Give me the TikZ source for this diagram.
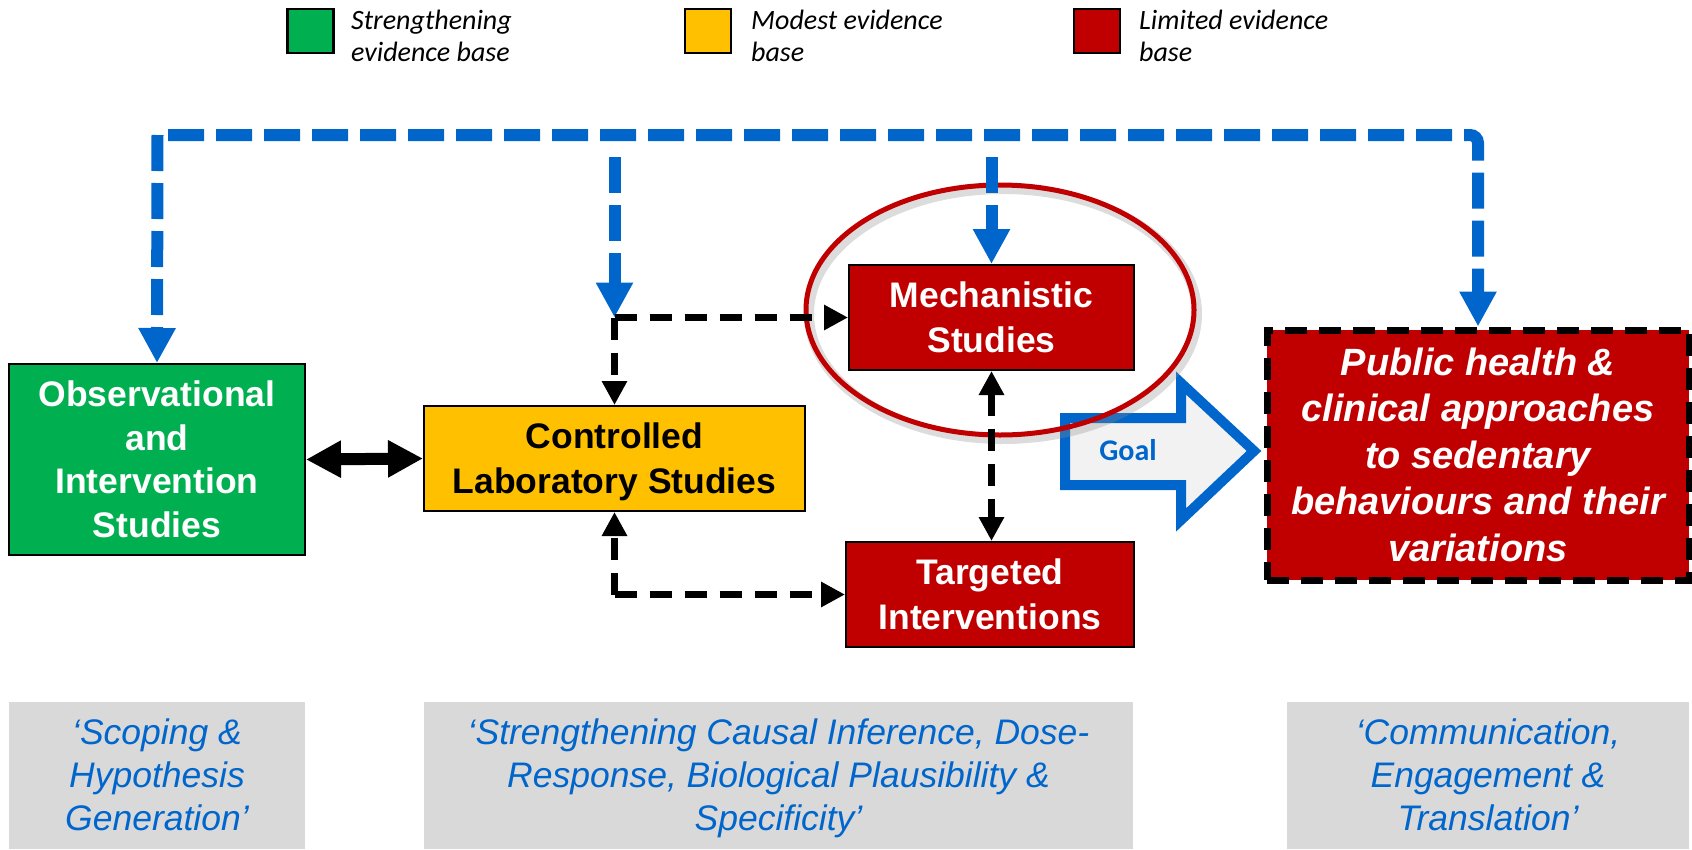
\documentclass[tikz,border=0pt]{standalone}
\usepackage{fontspec}
\setmainfont{Liberation Sans}
\newfontfamily\calfont{Carlito}
\usetikzlibrary{arrows.meta,shapes.geometric}
\definecolor{cgreen}{RGB}{0,176,80}
\definecolor{cyellow}{RGB}{255,192,0}
\definecolor{cred}{RGB}{192,0,0}
\definecolor{cblue}{RGB}{0,102,204}
\definecolor{cgray}{RGB}{217,217,217}
\definecolor{cgoal}{RGB}{242,242,242}
\newcommand\pst{\rule[-0.212em]{0pt}{1.117em}}
\begin{document}
\begin{tikzpicture}[x=1pt,y=-1pt,
  box/.style={draw=black, line width=2pt, inner sep=0pt, align=center,
    font=\bfseries\fontsize{35.5}{45}\selectfont},
  phbox/.style={draw=black, line width=7pt, dash pattern=on 22pt off 12pt, inner sep=0pt, align=center,
    fill=cred, text=white, font=\bfseries\itshape\fontsize{38}{46.5}\selectfont},
  graybox/.style={fill=cgray, inner sep=0pt, align=center, text=cblue,
    font=\itshape\fontsize{35.5}{43}\selectfont},
  legsq/.style={draw=black, line width=2.5pt, inner sep=0pt, minimum width=46pt, minimum height=44pt},
  legtext/.style={anchor=west, align=left, inner sep=0pt, font=\calfont\itshape\fontsize{28}{32}\selectfont},
  bdash/.style={cblue, line width=12pt, dash pattern=on 36pt off 12pt},
  btip/.style={-{Triangle[length=35pt,width=35pt]}},
  kdash/.style={black, line width=7pt, dash pattern=on 22pt off 13pt},
  ktip/.style={-{Triangle[length=24pt,width=24pt]}},
  kbtip/.style={{Triangle[length=24pt,width=24pt]}-{Triangle[length=24pt,width=24pt]}},
]
\useasboundingbox (0,0) rectangle (1692,849);

% legend
\node[legsq, fill=cgreen] (lg) at (310.5,31) {};
\node[legtext] (lgt) at (351,36) {Strengthening\\evidence base};
\node[legsq, fill=cyellow] (ly) at (708,31) {};
\node[legtext] (lyt) at (751,36) {Modest evidence\\base};
\node[legsq, fill=cred] (lr) at (1097,31) {};
\node[legtext] (lrt) at (1139,36) {Limited evidence\\base};

% bottom gray boxes
\node[graybox, minimum width=296pt, minimum height=147pt] (g1) at (157,775.5)
  {\pst`Scoping \&\\Hypothesis\\\pst Generation'};
\node[graybox, minimum width=709pt, minimum height=147pt] (g2) at (778.5,775.5)
  {\pst`Strengthening Causal Inference, Dose-\\Response, Biological Plausibility \&\\\pst Specificity'};
\node[graybox, minimum width=402pt, minimum height=147pt] (g3) at (1488,775.5)
  {\pst`Communication,\\Engagement \&\\\pst Translation'};

% goal arrow
\draw[cblue, line width=10pt, fill=cgoal, miter limit=10]
  (1065,418) -- (1181,418) -- (1181,383) -- (1254,451) -- (1181,520) -- (1181,485) -- (1065,485) -- cycle;
\node[text=cblue, font=\calfont\bfseries\fontsize{30}{36}\selectfont, inner sep=0pt] (goal) at (1128,450) {Goal};

% ellipse with shadow
\draw[black!45, opacity=0.3, line width=10pt] (1003,314) ellipse [x radius=194pt, y radius=125pt];
\draw[cred, line width=5pt] (1000,310) ellipse [x radius=194pt, y radius=125pt];

% boxes
\node[box, fill=cgreen, text=white, minimum width=296pt, minimum height=191pt,
  font=\bfseries\fontsize{35.5}{43.5}\selectfont] (obs) at (157,459.5)
  {\pst Observational\\and\\Intervention\\\pst Studies};
\node[box, fill=cyellow, text=black, minimum width=381pt, minimum height=105pt] (ctrl) at (614.5,458.5)
  {\pst Controlled\\\pst Laboratory Studies};
\node[box, fill=cred, text=white, minimum width=285pt, minimum height=105pt] (mech) at (991.5,317.5)
  {\pst Mechanistic\\\pst Studies};
\node[box, fill=cred, text=white, minimum width=288pt, minimum height=105pt] (targ) at (990,594.5)
  {\pst Targeted\\\pst Interventions};
\node[phbox, minimum width=422pt, minimum height=250pt] (ph) at (1478,455)
  {\pst Public health \&\\clinical approaches\\to sedentary\\behaviours and their\\\pst variations};

% blue dashed connectors
\coordinate (tl) at (157.5,135);
\coordinate (tl2) at (168,135);
\coordinate (tr) at (1478,135);
\draw[bdash, btip] (tl) -- (obs.north);
\draw[bdash, btip, rounded corners=8pt] (tl2) -- (tr) -- (ph.north);
\coordinate (j1) at (ctrl.north |- mech.west);
\coordinate (j2) at (ctrl.south |- targ.west);
\coordinate (b2) at (614.5,157);
\coordinate (b3) at (991.5,157);
\draw[bdash, btip] (b2) -- (j1);
\draw[bdash, btip] (b3) -- (mech.north);

% black dashed connectors
\draw[kdash, ktip] (j1) -- (mech.west);
\draw[kdash, ktip] (j1) -- (ctrl.north);
\draw[kdash, ktip] (j2) -- (ctrl.south);
\draw[kdash, ktip] (j2) -- (targ.west);
\draw[kdash, kbtip] (mech.south) -- (mech.south |- targ.north);

% solid double arrow
\draw[black, line width=12pt, {Triangle[length=35pt,width=35pt]}-{Triangle[length=35pt,width=35pt]}]
  (obs.east) -- (ctrl.west);
\end{tikzpicture}
\end{document}
